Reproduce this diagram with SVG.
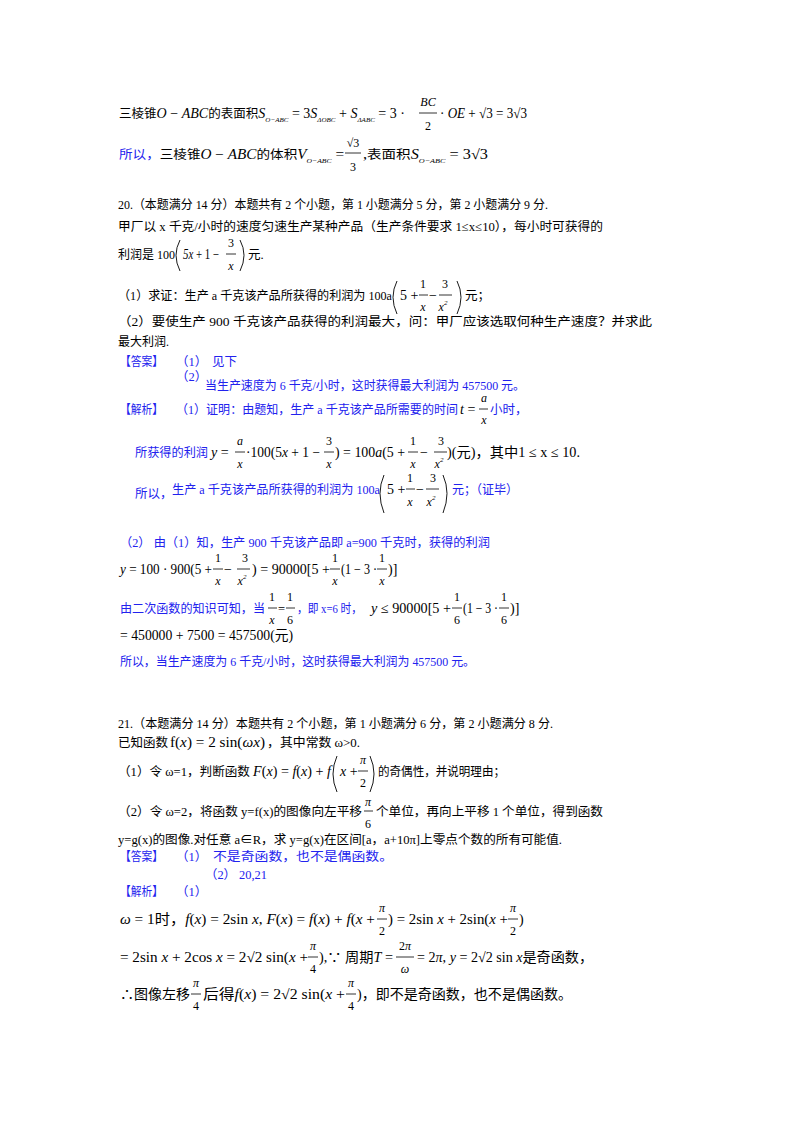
<svg xmlns="http://www.w3.org/2000/svg" width="800" height="1132" viewBox="0 0 800 1132">
<style>
text{font-family:"Liberation Serif","Noto Sans CJK SC",serif;font-size:12.5px;fill:#000}
.b{fill:#2222ee}
.i{font-style:italic}
.s{font-size:7px}
.m{font-size:14px}
.f{font-size:12px;text-anchor:middle}
line{stroke:#000;stroke-width:0.8}
path{fill:none;stroke:#000;stroke-width:0.9}
</style>
<rect width="800" height="1132" fill="#fff"/>
<!-- block 1 -->
<text x="119" y="118" class="m" textLength="286" lengthAdjust="spacingAndGlyphs"><tspan font-size="12.5">三棱锥</tspan><tspan class="i">O</tspan> − <tspan class="i">ABC</tspan><tspan font-size="12.5">的表面积</tspan><tspan class="i">S</tspan><tspan class="s i" dy="4">O−ABC</tspan><tspan dy="-4"> = 3</tspan><tspan class="i">S</tspan><tspan class="s i" dy="4">ΔOBC</tspan><tspan dy="-4"> + </tspan><tspan class="i">S</tspan><tspan class="s i" dy="4">ΔABC</tspan><tspan dy="-4"> = 3 ·</tspan></text>
<text x="428" y="106" class="f i">BC</text><line x1="419" y1="113" x2="437" y2="113"/><text x="428" y="130" class="f">2</text>
<text x="440" y="118" class="m" textLength="87" lengthAdjust="spacingAndGlyphs">· <tspan class="i">OE</tspan> + √3 = 3√3</text>
<text x="119" y="159" class="m" textLength="225" lengthAdjust="spacingAndGlyphs"><tspan class="b" font-size="12.5">所以，</tspan><tspan font-size="12.5">三棱锥</tspan><tspan class="i">O</tspan> − <tspan class="i">ABC</tspan><tspan font-size="12.5">的体积</tspan><tspan class="i">V</tspan><tspan class="s i" dy="4">O−ABC</tspan><tspan dy="-4"> =</tspan></text>
<text x="353" y="147" class="f">√3</text><line x1="345" y1="153" x2="361" y2="153"/><text x="353" y="171" class="f">3</text>
<text x="363" y="159" class="m" textLength="125" lengthAdjust="spacingAndGlyphs">,<tspan font-size="12.5">表面积</tspan><tspan class="i">S</tspan><tspan class="s i" dy="4">O−ABC</tspan><tspan dy="-4"> = 3√3</tspan></text>
<!-- 20 -->
<text x="118" y="209" textLength="430" lengthAdjust="spacingAndGlyphs">20.（本题满分 14 分）本题共有 2 个小题，第 1 小题满分 5 分，第 2 小题满分 9 分.</text>
<text x="118" y="231" textLength="485" lengthAdjust="spacingAndGlyphs">甲厂以 x 千克/小时的速度匀速生产某种产品（生产条件要求 1≤x≤10），每小时可获得的</text>
<text x="118" y="259" textLength="57" lengthAdjust="spacingAndGlyphs">利润是 100</text>
<path d="M180,240 Q172,255 180,271"/>
<text x="183" y="259" class="m" textLength="36" lengthAdjust="spacingAndGlyphs"><tspan class="i">5x</tspan> + 1 −</text>
<text x="231" y="247" class="f">3</text><line x1="226" y1="254" x2="236" y2="254"/><text x="231" y="270" class="f i">x</text>
<path d="M240,240 Q248,255 240,271"/>
<text x="248" y="259">元.</text>
<text x="118" y="300" textLength="274" lengthAdjust="spacingAndGlyphs">（1）求证：生产 a 千克该产品所获得的利润为 100a</text>
<path d="M397,281 Q389,297 397,314"/>
<text x="400" y="300" class="m">5 +</text>
<text x="423" y="288" class="f">1</text><line x1="419" y1="295" x2="428" y2="295"/><text x="423" y="311" class="f i">x</text>
<text x="429" y="300" class="m">−</text>
<text x="445" y="288" class="f">3</text><line x1="439" y1="295" x2="452" y2="295"/><text x="443" y="311" class="f i">x<tspan class="s" dy="-6">2</tspan></text>
<path d="M457,281 Q465,297 457,314"/>
<text x="465" y="300">元；</text>
<text x="118" y="326" textLength="534" lengthAdjust="spacingAndGlyphs">（2）要使生产 900 千克该产品获得的利润最大，问：甲厂应该选取何种生产速度？并求此</text>
<text x="118" y="346" textLength="51" lengthAdjust="spacingAndGlyphs">最大利润.</text>
<text x="120" y="366" class="b" textLength="43" lengthAdjust="spacingAndGlyphs">【答案】</text>
<text x="176" y="366" class="b">（1）</text>
<text x="212" y="366" class="b">见下</text>
<text x="176" y="381" class="b">（2）</text>
<text x="205" y="390" class="b" textLength="320" lengthAdjust="spacingAndGlyphs">当生产速度为 6 千克/小时，这时获得最大利润为 457500 元。</text>
<text x="120" y="414" class="b" textLength="43" lengthAdjust="spacingAndGlyphs">【解析】</text>
<text x="176" y="414" class="b" textLength="282" lengthAdjust="spacingAndGlyphs">（1）证明：由题知，生产 a 千克该产品所需要的时间</text>
<text x="460" y="414" class="m"><tspan class="i">t</tspan> =</text>
<text x="484" y="402" class="f i">a</text><line x1="479" y1="409" x2="488" y2="409"/><text x="484" y="424" class="f i">x</text>
<text x="490" y="414" class="b">小时，</text>
<text x="135" y="457" class="b" textLength="73" lengthAdjust="spacingAndGlyphs">所获得的利润</text>
<text x="211" y="457" class="m"><tspan class="i">y</tspan> =</text>
<text x="240" y="445" class="f i">a</text><line x1="235" y1="452" x2="245" y2="452"/><text x="240" y="468" class="f i">x</text>
<text x="246" y="457" class="m" textLength="74" lengthAdjust="spacingAndGlyphs">·100(5<tspan class="i">x</tspan> + 1 −</text>
<text x="329" y="445" class="f">3</text><line x1="324" y1="452" x2="334" y2="452"/><text x="329" y="468" class="f i">x</text>
<text x="335" y="457" class="m" textLength="70" lengthAdjust="spacingAndGlyphs">) = 100<tspan class="i">a</tspan>(5 +</text>
<text x="413" y="445" class="f">1</text><line x1="408" y1="452" x2="418" y2="452"/><text x="413" y="468" class="f i">x</text>
<text x="420" y="457" class="m">−</text>
<text x="441" y="445" class="f">3</text><line x1="434" y1="452" x2="447" y2="452"/><text x="439" y="468" class="f i">x<tspan class="s" dy="-6">2</tspan></text>
<text x="447" y="457" class="m" textLength="133" lengthAdjust="spacingAndGlyphs">)(元)，其中1 ≤ x ≤ 10.</text>
<text x="135" y="498" class="b">所以，</text>
<text x="172" y="494" class="b" textLength="208" lengthAdjust="spacingAndGlyphs">生产 a 千克该产品所获得的利润为 100a</text>
<path d="M384,475 Q376,493 384,513"/>
<text x="387" y="494" class="m">5 +</text>
<text x="410" y="482" class="f">1</text><line x1="406" y1="489" x2="415" y2="489"/><text x="410" y="506" class="f i">x</text>
<text x="416" y="494" class="m">−</text>
<text x="433" y="482" class="f">3</text><line x1="426" y1="489" x2="439" y2="489"/><text x="431" y="506" class="f i">x<tspan class="s" dy="-6">2</tspan></text>
<path d="M443,475 Q451,493 443,513"/>
<text x="452" y="494" class="b" textLength="66" lengthAdjust="spacingAndGlyphs">元；（证毕）</text>
<text x="120" y="547" class="b" textLength="370" lengthAdjust="spacingAndGlyphs">（2）  由（1）知，生产 900 千克该产品即 a=900 千克时，获得的利润</text>
<text x="120" y="574" class="m" textLength="92" lengthAdjust="spacingAndGlyphs"><tspan class="i">y</tspan> = 100 · 900(5 +</text>
<text x="218" y="562" class="f">1</text><line x1="213" y1="569" x2="223" y2="569"/><text x="218" y="585" class="f i">x</text>
<text x="224" y="574" class="m">−</text>
<text x="245" y="562" class="f">3</text><line x1="237" y1="569" x2="250" y2="569"/><text x="242" y="585" class="f i">x<tspan class="s" dy="-6">2</tspan></text>
<text x="252" y="574" class="m" textLength="78" lengthAdjust="spacingAndGlyphs">) = 90000[5 +</text>
<text x="335" y="562" class="f">1</text><line x1="330" y1="569" x2="340" y2="569"/><text x="335" y="585" class="f i">x</text>
<text x="341" y="574" class="m" textLength="36" lengthAdjust="spacingAndGlyphs">(1 − 3 ·</text>
<text x="382" y="562" class="f">1</text><line x1="377" y1="569" x2="387" y2="569"/><text x="382" y="585" class="f i">x</text>
<text x="388" y="574" class="m">)]</text>
<text x="120" y="613" class="b" textLength="145" lengthAdjust="spacingAndGlyphs">由二次函数的知识可知，当</text>
<text x="272" y="601" class="f">1</text><line x1="268" y1="608" x2="277" y2="608"/><text x="272" y="624" class="f i">x</text>
<text x="278" y="613">=</text>
<text x="290" y="601" class="f">1</text><line x1="286" y1="608" x2="295" y2="608"/><text x="290" y="624" class="f">6</text>
<text x="297" y="613" class="b" textLength="65" lengthAdjust="spacingAndGlyphs">，即 x=6 时，</text>
<text x="371" y="613" class="m" textLength="80" lengthAdjust="spacingAndGlyphs"><tspan class="i">y</tspan> ≤ 90000[5 +</text>
<text x="457" y="601" class="f">1</text><line x1="452" y1="608" x2="462" y2="608"/><text x="457" y="624" class="f">6</text>
<text x="463" y="613" class="m" textLength="35" lengthAdjust="spacingAndGlyphs">(1 − 3 ·</text>
<text x="504" y="601" class="f">1</text><line x1="499" y1="608" x2="509" y2="608"/><text x="504" y="624" class="f">6</text>
<text x="510" y="613" class="m">)]</text>
<text x="120" y="640" class="m" textLength="173" lengthAdjust="spacingAndGlyphs">= 450000 + 7500 = 457500(元)</text>
<text x="120" y="666" class="b" textLength="355" lengthAdjust="spacingAndGlyphs">所以，当生产速度为 6 千克/小时，这时获得最大利润为 457500 元。</text>
<!-- 21 -->
<text x="118" y="728" textLength="435" lengthAdjust="spacingAndGlyphs">21.（本题满分 14 分）本题共有 2 个小题，第 1 小题满分 6 分，第 2 小题满分 8 分.</text>
<text x="118" y="747">已知函数</text>
<text x="170" y="747" class="m" textLength="95" lengthAdjust="spacingAndGlyphs">f(<tspan class="i">x</tspan>) = 2 sin(<tspan class="i">ωx</tspan>)</text>
<text x="267" y="747" textLength="93" lengthAdjust="spacingAndGlyphs">，其中常数 ω&gt;0.</text>
<text x="118" y="776" textLength="213" lengthAdjust="spacingAndGlyphs">（1）令 ω=1，判断函数 <tspan class="i m">F</tspan><tspan class="m">(</tspan><tspan class="i m">x</tspan><tspan class="m">) = </tspan><tspan class="i m">f</tspan><tspan class="m">(</tspan><tspan class="i m">x</tspan><tspan class="m">) + </tspan><tspan class="i m">f</tspan></text>
<path d="M337,756 Q329,774 337,792"/>
<text x="340" y="776" class="m"><tspan class="i">x</tspan> +</text>
<text x="363" y="764" class="f i">π</text><line x1="358" y1="771" x2="368" y2="771"/><text x="363" y="787" class="f">2</text>
<path d="M370,756 Q378,774 370,792"/>
<text x="378" y="776" textLength="127" lengthAdjust="spacingAndGlyphs">的奇偶性，并说明理由；</text>
<text x="118" y="816" textLength="244" lengthAdjust="spacingAndGlyphs">（2）令 ω=2，将函数 y=f(x)的图像向左平移</text>
<text x="368" y="806" class="f i">π</text><line x1="364" y1="811" x2="373" y2="811"/><text x="368" y="828" class="f">6</text>
<text x="376" y="816" textLength="227" lengthAdjust="spacingAndGlyphs">个单位，再向上平移 1 个单位，得到函数</text>
<text x="118" y="844" textLength="444" lengthAdjust="spacingAndGlyphs">y=g(x)的图像.对任意 a∈R，求 y=g(x)在区间[a，a+10π]上零点个数的所有可能值.</text>
<text x="120" y="861" class="b" textLength="43" lengthAdjust="spacingAndGlyphs">【答案】</text>
<text x="176" y="861" class="b">（1）</text>
<text x="213" y="861" class="b" textLength="180" lengthAdjust="spacingAndGlyphs">不是奇函数，也不是偶函数。</text>
<text x="205" y="879" class="b" textLength="62" lengthAdjust="spacingAndGlyphs">（2）  20,21</text>
<text x="120" y="896" class="b" textLength="43" lengthAdjust="spacingAndGlyphs">【解析】</text>
<text x="176" y="896" class="b">（1）</text>
<text x="120" y="924" class="m" textLength="255" lengthAdjust="spacingAndGlyphs"><tspan class="i">ω</tspan> = 1时，<tspan class="i">f</tspan>(<tspan class="i">x</tspan>) = 2sin <tspan class="i">x</tspan>, <tspan class="i">F</tspan>(<tspan class="i">x</tspan>) = <tspan class="i">f</tspan>(<tspan class="i">x</tspan>) + <tspan class="i">f</tspan>(<tspan class="i">x</tspan> +</text>
<text x="382" y="912" class="f i">π</text><line x1="377" y1="919" x2="387" y2="919"/><text x="382" y="935" class="f">2</text>
<text x="388" y="924" class="m" textLength="120" lengthAdjust="spacingAndGlyphs">) = 2sin <tspan class="i">x</tspan> + 2sin(<tspan class="i">x</tspan> +</text>
<text x="513" y="912" class="f i">π</text><line x1="508" y1="919" x2="518" y2="919"/><text x="513" y="935" class="f">2</text>
<text x="519" y="924" class="m">)</text>
<text x="120" y="962" class="m" textLength="188" lengthAdjust="spacingAndGlyphs">= 2sin <tspan class="i">x</tspan> + 2cos <tspan class="i">x</tspan> = 2√2 sin(<tspan class="i">x</tspan> +</text>
<text x="313" y="950" class="f i">π</text><line x1="308" y1="957" x2="318" y2="957"/><text x="313" y="973" class="f">4</text>
<text x="319" y="962" class="m" textLength="74" lengthAdjust="spacingAndGlyphs">),∵ 周期<tspan class="i">T</tspan> =</text>
<text x="405" y="950" class="f">2<tspan class="i">π</tspan></text><line x1="396" y1="957" x2="414" y2="957"/><text x="405" y="973" class="f i">ω</text>
<text x="417" y="962" class="m" textLength="176" lengthAdjust="spacingAndGlyphs">= 2<tspan class="i">π</tspan>, <tspan class="i">y</tspan> = 2√2 sin <tspan class="i">x</tspan>是奇函数，</text>
<text x="120" y="999" class="m" textLength="70" lengthAdjust="spacingAndGlyphs">∴图像左移</text>
<text x="196" y="987" class="f i">π</text><line x1="191" y1="994" x2="201" y2="994"/><text x="196" y="1010" class="f">4</text>
<text x="203" y="999" class="m" textLength="142" lengthAdjust="spacingAndGlyphs">后得<tspan class="i">f</tspan>(<tspan class="i">x</tspan>) = 2√2 sin(<tspan class="i">x</tspan> +</text>
<text x="351" y="987" class="f i">π</text><line x1="346" y1="994" x2="356" y2="994"/><text x="351" y="1010" class="f">4</text>
<text x="357" y="999" class="m" textLength="215" lengthAdjust="spacingAndGlyphs">)，即不是奇函数，也不是偶函数。</text>
</svg>
